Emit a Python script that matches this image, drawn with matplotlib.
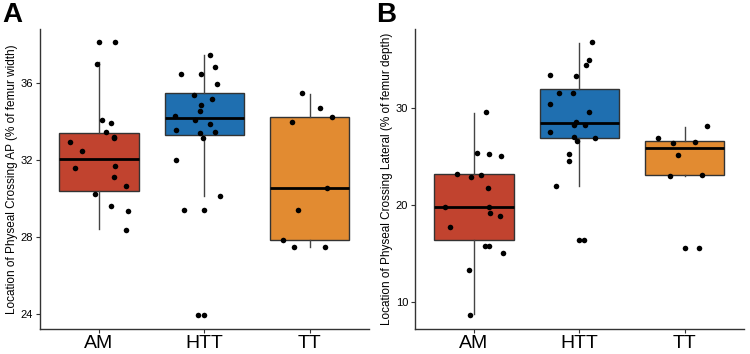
import numpy as np
import matplotlib.pyplot as plt

plt.rcParams['font.family'] = ['Liberation Sans', 'DejaVu Sans']

groups = ['AM', 'HTT', 'TT']
colors = ['#C1432F', '#1F6FB0', '#E28B31']

# Panel A: physeal crossing AP (% of femur width)
a_am = [38.13, 38.13, 37.0, 34.06, 33.94, 33.45, 33.21, 33.14, 32.95, 32.45,
        31.57, 31.71, 31.1, 30.66, 30.25, 29.61, 29.35, 28.38]
a_am_jit = [0.00, 0.15, -0.02, 0.03, 0.11, 0.07, 0.14, 0.14, -0.28, -0.16,
            -0.23, 0.15, 0.14, 0.26, -0.04, 0.11, 0.27, 0.26]
a_htt = [37.45, 36.48, 36.47, 36.83, 35.95, 35.36, 35.15, 34.84, 34.55, 34.29, 34.1,
         33.87, 33.57, 33.39, 33.44, 33.14, 31.98, 30.13, 29.4, 29.4, 23.95, 23.95]
a_htt_jit = [0.05, -0.22, -0.03, 0.10, 0.12, -0.10, 0.07, -0.03, -0.04, -0.28, -0.09,
             0.05, -0.27, -0.04, 0.10, -0.01, -0.27, 0.15, -0.19, 0.00, -0.06, 0.00]
a_tt = [35.48, 34.7, 34.23, 33.96, 30.53, 29.42, 27.83, 27.5, 27.47]
a_tt_jit = [-0.08, 0.10, 0.21, -0.17, 0.16, -0.11, -0.26, -0.15, 0.14]
# box stats: whisker low, q1, median, q3, whisker high
a_stats = [[28.4, 30.37, 32.07, 33.39, 37.07],
           [30.15, 33.31, 34.18, 35.5, 37.45],
           [27.48, 27.86, 30.53, 34.23, 35.45]]

# Panel B: physeal crossing lateral (% of femur depth)
b_am = [29.63, 25.37, 25.26, 25.12, 23.23, 22.92, 23.13, 21.75, 19.82, 19.82,
        19.2, 18.93, 17.73, 15.83, 15.83, 15.05, 13.32, 8.68]
b_am_jit = [0.11, 0.03, 0.14, 0.26, -0.16, -0.03, 0.07, 0.13, -0.28, 0.14,
            0.15, 0.25, -0.23, 0.10, 0.14, 0.27, -0.05, -0.04]
b_htt = [36.85, 35.0, 34.48, 33.48, 33.37, 31.59, 31.59, 30.45, 29.63, 28.57, 28.32,
         28.29, 27.6, 27.08, 26.98, 26.6, 25.29, 24.54, 21.96, 16.45, 16.45]
b_htt_jit = [0.12, 0.09, 0.06, -0.28, -0.03, -0.19, -0.06, -0.28, 0.09, -0.03, -0.05,
             0.05, -0.28, -0.05, 0.15, -0.02, -0.10, -0.10, -0.22, 0.00, 0.04]
b_tt = [28.15, 26.91, 26.46, 26.56, 25.19, 22.99, 23.16, 15.59, 15.59]
b_tt_jit = [0.21, -0.26, -0.11, 0.10, -0.07, -0.14, 0.16, 0.00, 0.13]
b_stats = [[8.75, 16.39, 19.82, 23.2, 29.56],
           [22.02, 26.91, 28.46, 32.0, 36.78],
           [23.0, 23.16, 25.88, 26.67, 28.11]]


def draw_panel(ax, stats, points, jitters, ylabel, ylim, yticks):
    bxp_stats = []
    for s, name in zip(stats, groups):
        bxp_stats.append(dict(whislo=s[0], q1=s[1], med=s[2], q3=s[3],
                              whishi=s[4], fliers=[], label=name))
    bp = ax.bxp(bxp_stats, positions=[1, 2, 3], widths=0.75, patch_artist=True,
                showcaps=False, showfliers=False,
                boxprops=dict(edgecolor='#333333', linewidth=1.0),
                whiskerprops=dict(color='#444444', linewidth=1.0),
                medianprops=dict(color='black', linewidth=2.0))
    for patch, c in zip(bp['boxes'], colors):
        patch.set_facecolor(c)
    for i, (vals, jit) in enumerate(zip(points, jitters)):
        ax.scatter(np.array(jit) + i + 1, vals, s=16, color='black', zorder=5,
                   linewidths=0)
    ax.set_xlim(0.44, 3.56)
    ax.set_ylim(*ylim)
    ax.set_yticks(yticks)
    ax.set_xticks([1, 2, 3])
    ax.set_xticklabels(groups, fontsize=14)
    ax.tick_params(axis='y', labelsize=8, length=3, color='#333333', pad=2)
    ax.tick_params(axis='x', length=3, color='#333333', pad=1)
    ax.set_ylabel(ylabel, fontsize=8.5, labelpad=2)
    for side in ['top', 'right']:
        ax.spines[side].set_visible(False)
    for side in ['left', 'bottom']:
        ax.spines[side].set_color('#333333')
        ax.spines[side].set_linewidth(1.0)


fig = plt.figure(figsize=(7.5, 3.54), dpi=100)
ax1 = fig.add_axes([0.0533, 0.0706, 0.4387, 0.8474])
ax2 = fig.add_axes([0.5533, 0.0706, 0.4387, 0.8474])

draw_panel(ax1, a_stats, [a_am, a_htt, a_tt], [a_am_jit, a_htt_jit, a_tt_jit],
           'Location of Physeal Crossing AP (% of femur width)', (23.22, 38.8), [24, 28, 32, 36])
draw_panel(ax2, b_stats, [b_am, b_htt, b_tt], [b_am_jit, b_htt_jit, b_tt_jit],
           'Location of Physeal Crossing Lateral (% of femur depth)', (7.23, 38.19), [10, 20, 30])

fig.text(0.003, 0.995, 'A', fontsize=20, fontweight='bold', va='top', ha='left')
fig.text(0.502, 0.995, 'B', fontsize=20, fontweight='bold', va='top', ha='left')

plt.savefig('out.png', dpi=100)
